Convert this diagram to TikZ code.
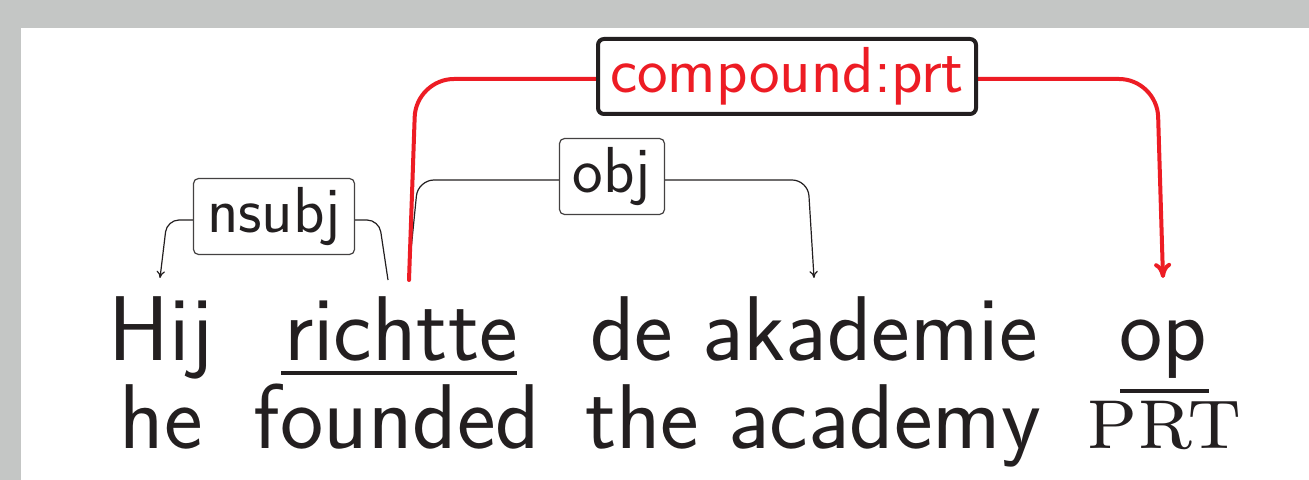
\documentclass[tikz,border=0pt]{standalone}
\usetikzlibrary{arrows.meta}
\definecolor{ink}{HTML}{231F20}
\definecolor{framegray}{HTML}{C4C6C5}
\definecolor{depred}{HTML}{ED1C24}
\begin{document}
\begin{tikzpicture}[x=0.5pt,y=-0.5pt,
  word/.style={font=\fontsize{46}{55}\selectfont\sffamily, text=ink, inner sep=0pt, anchor=base},
  gloss/.style={word},
  labbox/.style={draw=ink!85, line width=0.6pt, rounded corners=2.5pt, fill=white, text=ink,
    font=\fontsize{32.5}{38}\selectfont\sffamily, inner sep=0pt, minimum height=38pt},
  bigbox/.style={labbox, draw=ink, line width=2pt, rounded corners=3pt, text=depred, minimum height=37.5pt},
  depline/.style={draw=ink, line width=0.6pt, rounded corners=6pt},
  redline/.style={draw=depred, line width=2pt, line cap=round},
  blacktip/.style={-{To[length=3.5pt,width=4.2pt]}},
  redtip/.style={-{To[length=7.5pt,width=8.5pt]}},
  uline/.style={draw=ink, line width=2pt}
]
\useasboundingbox (0,0) rectangle (1309,480);
\fill[framegray] (0,0) rectangle (1309,480);
\fill[white] (21,28) rectangle (1309,480);

% words
\node[word] (w1) at (161,360) {Hij};
\node[word] (w2) at (401,360) {richtte};
\node[word] (w3) at (814,360) {de akademie};
\node[word] (w4) at (1163,360) {op};
% glosses
\node[gloss] (g1) at (161,448) {he};
\node[gloss] (g2) at (397,448) {founded};
\node[gloss] (g3) at (813,448) {the academy};
\node[gloss, font=\fontsize{46}{55}\selectfont\rmfamily] (g4) at (1164,448) {\textsc{prt}};

% underlines
\draw[uline] (281,373) -- (517,373);
\draw[uline] (1120,391) -- (1209,391);

% connector points
\coordinate (s1) at (388,280);
\coordinate (k2) at (379,220);
\coordinate (k1) at (167,220);
\coordinate (t1) at (160,278);
\coordinate (s2) at (408,280);
\coordinate (k3) at (418,180);
\coordinate (k4) at (808,180);
\coordinate (t2) at (814,278);
\coordinate (s3) at (409,280);
\coordinate (k5) at (416,79);
\coordinate (k6) at (1157,79);
\coordinate (t3) at (1163,278);

% nsubj
\draw[depline, blacktip] (s1) -- (k2) -- (k1) -- (t1);
\node[labbox, minimum width=80.5pt] (lab1) at (274,216.5) {nsubj};
% obj
\draw[depline, rounded corners=8pt, blacktip] (s2) -- (k3) -- (k4) -- (t2);
\node[labbox, minimum width=52.5pt] (lab2) at (612,176.5) {obj};
% compound:prt
\draw[redline, rounded corners=19pt, redtip] (s3) -- (k5) -- (k6) -- (t3);
\node[bigbox, minimum width=189pt] (lab3) at (787,76.5) {compound:prt};
\end{tikzpicture}
\end{document}
